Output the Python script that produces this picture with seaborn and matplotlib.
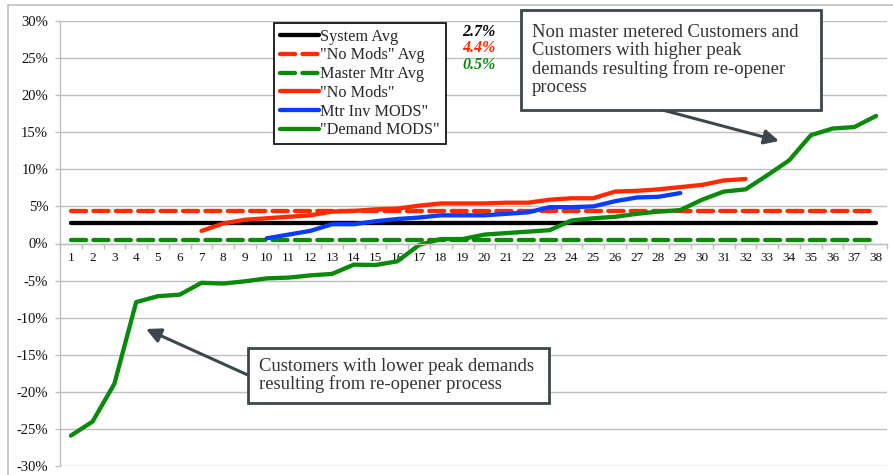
import matplotlib
matplotlib.use("Agg")
import matplotlib.pyplot as plt
from matplotlib.lines import Line2D
from matplotlib.patches import Rectangle
from matplotlib.ticker import FixedLocator, FuncFormatter
import numpy as np
import pandas as pd
import seaborn as sns

# ---- data (percent change) ----
categories = list(range(1, 39))

system_avg = 2.7
no_mods_avg = 4.4
master_mtr_avg = 0.5

no_mods_x = list(range(7, 33))
no_mods = [1.7, 2.7, 3.2, 3.4, 3.6, 3.8, 4.3, 4.4, 4.6, 4.7, 5.1, 5.4, 5.4,
           5.4, 5.5, 5.5, 5.9, 6.1, 6.1, 7.0, 7.1, 7.3, 7.6, 7.9, 8.5, 8.7]

mtr_inv_x = list(range(10, 30))
mtr_inv_mods = [0.7, 1.2, 1.7, 2.6, 2.6, 3.0, 3.3, 3.5, 3.8, 3.8, 3.8, 4.0,
                4.2, 4.9, 4.9, 5.0, 5.7, 6.2, 6.3, 6.8]

demand_mods = [-25.9, -24.0, -18.9, -7.9, -7.1, -6.9, -5.3, -5.4, -5.1, -4.7,
               -4.6, -4.3, -4.1, -2.85, -2.9, -2.4, -0.2, 0.6, 0.6, 1.2, 1.4,
               1.6, 1.8, 3.1, 3.4, 3.6, 4.0, 4.3, 4.5, 5.9, 7.0, 7.3, 9.2,
               11.2, 14.6, 15.5, 15.7, 17.2]

y_ticks = list(range(-30, 31, 5))

RED = "#ff2a00"
BLUE = "#0a3cff"
GREEN = "#0a8a0a"
BLACK = "#000000"
GRID = "#bfbfbf"
SLATE = "#3c474b"

sns.set_theme(style="white")
plt.rcParams["font.family"] = ["Liberation Serif", "DejaVu Serif"]

W, H = 893, 475
fig = plt.figure(figsize=(W / 100, H / 100), dpi=100)
ax = fig.add_axes([60 / W, 1 - 466 / H, (887 - 60) / W, (466 - 21) / H])


def fx(px):
    return px / W


def fy(py):
    return 1 - py / H


LW = 3.1
dash = (3.5, 1.7)

avg_df = pd.DataFrame({"cat": categories})
sns.lineplot(x=avg_df["cat"], y=[system_avg] * len(categories), ax=ax,
             color=BLACK, lw=LW, label="System Avg")
sns.lineplot(x=avg_df["cat"], y=[no_mods_avg] * len(categories), ax=ax,
             color=RED, lw=LW, label='"No Mods" Avg', dashes=False)
sns.lineplot(x=avg_df["cat"], y=[master_mtr_avg] * len(categories), ax=ax,
             color=GREEN, lw=LW, label="Master Mtr Avg", dashes=False)
ax.lines[1].set_dashes(dash)
ax.lines[2].set_dashes(dash)
for ln in ax.lines[1:3]:
    ln.set_dash_capstyle("round")

sns.lineplot(x=no_mods_x, y=no_mods, ax=ax, color=RED, lw=LW,
             label='"No Mods"')
sns.lineplot(x=mtr_inv_x, y=mtr_inv_mods, ax=ax, color=BLUE, lw=LW,
             label='Mtr Inv MODS"')
sns.lineplot(x=categories, y=demand_mods, ax=ax, color=GREEN, lw=LW,
             label='"Demand MODS"')
for ln in ax.lines:
    ln.set_solid_capstyle("round")
    ln.set_solid_joinstyle("round")

# ---- axes ----
ax.set_xlim(0.5, 38.5)
ax.set_ylim(-30, 30)
ax.set_xlabel("")
ax.set_ylabel("")
ax.yaxis.set_major_locator(FixedLocator(y_ticks))
ax.yaxis.set_major_formatter(FuncFormatter(lambda v, p: f"{v:.0f}%"))
ax.grid(axis="y", color=GRID, lw=1.0)
ax.set_axisbelow(True)

for s in ("top", "right"):
    ax.spines[s].set_visible(False)
ax.spines["left"].set_color(GRID)
ax.spines["left"].set_linewidth(1.0)
ax.spines["bottom"].set_position(("data", 0))
ax.spines["bottom"].set_color(GRID)
ax.spines["bottom"].set_linewidth(1.0)

ax.set_xticks(categories)
ax.set_xticklabels([str(c) for c in categories])
ax.set_xticks(np.arange(0.5, 39, 1.0), minor=True)
ax.tick_params(axis="x", which="major", length=0, pad=6, labelsize=9.5,
               labelcolor="#111111")
ax.tick_params(axis="x", which="minor", length=3.5, width=1.0, color=GRID,
               direction="out", bottom=True)
ax.tick_params(axis="y", which="major", length=3.5, width=1.0, color=GRID,
               direction="out", left=True, labelsize=10.5, pad=5,
               labelcolor="#111111")

# ---- legend ----
leg = ax.legend(loc="upper left", bbox_to_anchor=(fx(274), fy(23)),
                bbox_transform=fig.transFigure, frameon=True, fancybox=False,
                shadow=False, framealpha=1, edgecolor="black",
                fontsize=11.7, handlelength=2.4, handletextpad=0.1,
                labelspacing=0.17, borderpad=0.35, borderaxespad=0)
leg.get_frame().set_linewidth(1.2)
for h in leg.get_lines():
    h.set_linewidth(LW)

# average values next to the legend
for val, col, ypx in [(system_avg, BLACK, 32), (no_mods_avg, RED, 48),
                      (master_mtr_avg, GREEN, 65)]:
    fig.text(fx(462), fy(ypx), f"{val:.1f}%", color=col, fontsize=11.5,
             fontweight="bold", fontstyle="italic", ha="left", va="center")

# ---- callout boxes ----
def callout(x0, y0, x1, y1, text, tx, ls):
    fig.add_artist(Rectangle((fx(x0), fy(y1)), fx(x1 - x0), (y1 - y0) / H,
                             transform=fig.transFigure, facecolor="white",
                             edgecolor=SLATE, lw=2.0, zorder=5))
    fig.text(fx(tx), fy((y0 + y1) / 2), text, fontsize=13.4, color="#333333",
             ha="left", va="center", linespacing=ls, zorder=6)


def arrow(start, tip):
    ax.annotate("", xy=(tip[0], H - tip[1]), xytext=(start[0], H - start[1]),
                xycoords="figure pixels", textcoords="figure pixels",
                arrowprops=dict(arrowstyle="-|>", lw=2.2, color=SLATE,
                                mutation_scale=22, shrinkA=0, shrinkB=0),
                zorder=4)


arrow((655, 108), (779, 141))
callout(521, 10, 821, 110,
        "Non master metered Customers and\nCustomers with higher peak\n"
        "demands resulting from re-opener\nprocess", 532, 1.08)

arrow((250, 376), (146, 329))
callout(248, 348, 549, 403,
        "Customers with lower peak demands\nresulting from re-opener process",
        259, 0.98)

# outer frame
fig.add_artist(Line2D([fx(7.5), fx(7.5)], [0, fy(5)], transform=fig.transFigure,
                      color=GRID, lw=1.2))
fig.add_artist(Line2D([fx(7.5), 1], [fy(5), fy(5)], transform=fig.transFigure,
                      color=GRID, lw=1.2))

fig.savefig("out.png", dpi=100)
